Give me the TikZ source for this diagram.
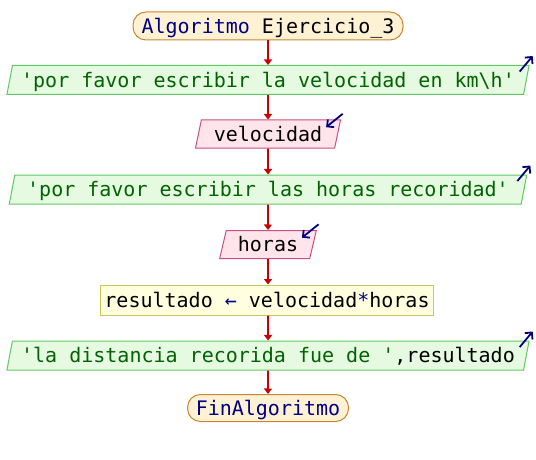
\documentclass[tikz,border=0pt]{standalone}
\usepackage{fontspec}
\setmonofont{DejaVu Sans Mono}
\usetikzlibrary{shapes.geometric,arrows.meta}

\definecolor{termfill}{RGB}{255,241,212}
\definecolor{termdraw}{RGB}{200,134,50}
\definecolor{outfill}{RGB}{230,250,226}
\definecolor{outdraw}{RGB}{96,200,96}
\definecolor{infill}{RGB}{255,228,236}
\definecolor{indraw}{RGB}{200,80,130}
\definecolor{procfill}{RGB}{255,255,224}
\definecolor{procdraw}{RGB}{200,200,90}
\definecolor{flowred}{RGB}{204,0,0}
\definecolor{kwblue}{RGB}{0,0,128}
\definecolor{strgreen}{RGB}{0,100,0}

\newcommand{\kw}[1]{\textcolor{kwblue}{#1}}
\newcommand{\str}[1]{\textcolor{strgreen}{#1}}

\tikzset{
  every node/.style={text height=14.6pt, text depth=0pt, inner sep=0pt},
  termbox/.style={rectangle, rounded corners=13pt, draw=termdraw, fill=termfill, line width=1pt},
  outbox/.style={trapezium, trapezium left angle=70, trapezium right angle=110,
    trapezium stretches=true, draw=outdraw, fill=outfill, line width=1pt, minimum height=29pt},
  inbox/.style={trapezium, trapezium left angle=72, trapezium right angle=108,
    trapezium stretches=true, draw=indraw, fill=infill, line width=1pt, minimum height=28pt},
  procbox/.style={rectangle, draw=procdraw, fill=procfill, line width=1pt},
  flow/.style={draw=flowred, line width=1.8pt, -{Triangle[length=5.5pt,width=8pt]}},
  ioarrow/.style={draw=kwblue, line width=1.8pt, -{Straight Barb[length=5pt,width=10pt]}}
}

\begin{document}
\begin{tikzpicture}[x=1pt, y=-1pt, font=\ttfamily\fontsize{20}{24}\selectfont]
\useasboundingbox (0,0) rectangle (536,460);

% flowchart blocks
\node[termbox, minimum width=270pt, minimum height=28pt] (start) at (268,26)
  {\kw{Algoritmo} Ejercicio\_3};
\node[outbox, minimum width=526pt] (o1) at (268,80)
  {\str{'por favor escribir la velocidad en km\textbackslash h'}};
\node[inbox, minimum width=145pt] (i1) at (268,134) {velocidad};
\node[outbox, minimum width=518pt] (o2) at (268,189.5)
  {\str{'por favor escribir las horas recoridad'}};
\node[inbox, minimum width=97pt] (i2) at (268,244.5) {horas};
\node[procbox, minimum width=333pt, minimum height=30pt] (proc) at (267,300)
  {resultado \kw{←} velocidad\kw{*}horas};
\node[outbox, minimum width=526pt] (o3) at (268,355.5)
  {\str{'la distancia recorida fue de '},resultado};
\node[termbox, minimum width=161pt, minimum height=27pt] (stop) at (268,408)
  {\kw{FinAlgoritmo}};

% control flow
\draw[flow] (start) -- (o1);
\draw[flow] (o1) -- (i1);
\draw[flow] (i1) -- (o2);
\draw[flow] (o2) -- (i2);
\draw[flow] (i2) -- (proc.north -| i2.south);
\draw[flow] (proc.south -| o3.north) -- (o3);
\draw[flow] (o3) -- (stop);

% output / input markers
\draw[ioarrow] ([shift={(-10,6.6)}]o1.top right corner) -- ([shift={(3,-9)}]o1.top right corner);
\draw[ioarrow] ([shift={(-10,6.6)}]o2.top right corner) -- ([shift={(3,-9)}]o2.top right corner);
\draw[ioarrow] ([shift={(-10,6.6)}]o3.top right corner) -- ([shift={(3,-9)}]o3.top right corner);
\draw[ioarrow] ([shift={(1.6,-5.7)}]i1.top right corner) -- ([shift={(-15,7.7)}]i1.top right corner);
\draw[ioarrow] ([shift={(1.6,-5.7)}]i2.top right corner) -- ([shift={(-15,7.7)}]i2.top right corner);
\end{tikzpicture}
\end{document}
